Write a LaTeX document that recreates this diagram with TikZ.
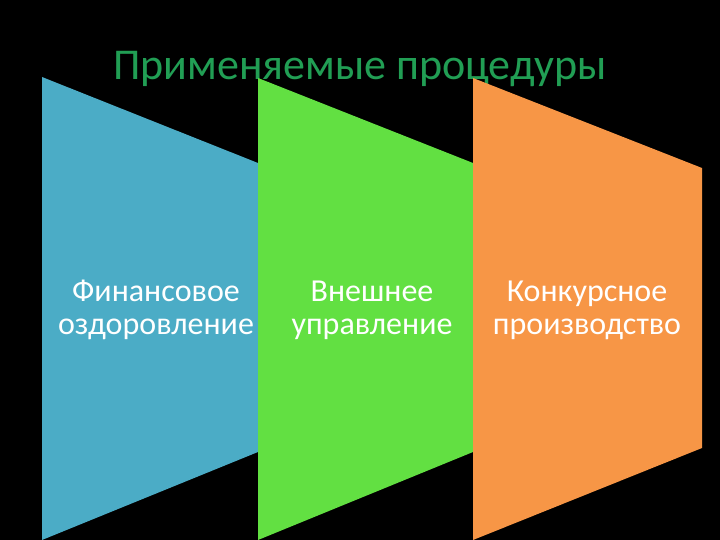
\documentclass[tikz,border=0pt]{standalone}
\usepackage{fontspec}
\setmainfont{Carlito}
\definecolor{bgblack}{RGB}{0,0,0}
\definecolor{titlegreen}{RGB}{33,158,84}
\definecolor{panelblue}{RGB}{75,172,198}
\definecolor{panelgreen}{RGB}{98,224,66}
\definecolor{panelorange}{RGB}{247,150,70}
\begin{document}
\begin{tikzpicture}[x=1pt,y=-1pt,
  paneltext/.style={text=white,align=center,font=\fontsize{32}{33}\selectfont,inner sep=0pt},
  panel/.style={draw=none}]
\useasboundingbox (0,0) rectangle (720,540);
\fill[bgblack] (0,0) rectangle (720,540);
\node[text=titlegreen,font=\fontsize{44}{48}\selectfont,inner sep=0pt] (title) at (360,69) {Применяемые процедуры};
\fill[panelblue] (42,77) -- (258,163) -- (258,452) -- (42,540) -- cycle;
\fill[panelgreen] (258,78) -- (473,163) -- (473,452) -- (258,540) -- cycle;
\fill[panelorange] (473,78) -- (702,168) -- (702,448) -- (473,540) -- cycle;
\node[paneltext] (fin) at (156,310) {Финансовое\\оздоровление};
\node[paneltext] (ext) at (372,310) {Внешнее\\управление};
\node[paneltext] (bank) at (587,310) {Конкурсное\\производство};
\end{tikzpicture}
\end{document}
